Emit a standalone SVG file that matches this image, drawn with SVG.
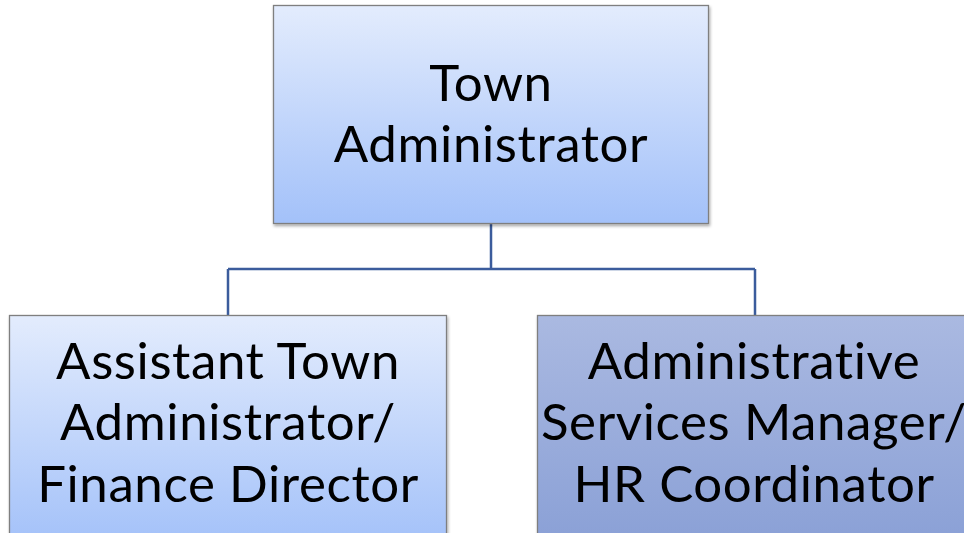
<svg xmlns="http://www.w3.org/2000/svg" width="964" height="533" viewBox="0 0 964 533">
  <defs>
    <linearGradient id="lightFill" x1="0" y1="0" x2="0" y2="1">
      <stop offset="0" stop-color="#e3ecfd"/>
      <stop offset="1" stop-color="#a3c1f9"/>
    </linearGradient>
    <linearGradient id="darkFill" x1="0" y1="0" x2="0" y2="1">
      <stop offset="0" stop-color="#aab9e1"/>
      <stop offset="1" stop-color="#8aa0d6"/>
    </linearGradient>
    <filter id="shadow" x="-5%" y="-5%" width="110%" height="115%">
      <feDropShadow dx="1" dy="2" stdDeviation="1.5" flood-color="#000" flood-opacity="0.35"/>
    </filter>
  </defs>
  <style>
    .box { stroke: #7f7f7f; stroke-width: 1.3; filter: url(#shadow); }
    .label { font-family: "Lato", "Open Sans", sans-serif; font-size: 51px; letter-spacing: 0.6px; font-variant-ligatures: none; fill: #000; text-anchor: middle; }
    .wire { fill: none; stroke: #3b5c9c; stroke-width: 2.5; }
  </style>
  <rect width="964" height="533" fill="#ffffff"/>

  <g id="connectors">
    <path class="wire" d="M491 224 V269 M228 269 H755 M228 269 V316 M755 269 V316"/>
  </g>

  <g id="town-administrator">
    <rect class="box" x="273.5" y="5.5" width="435" height="218" fill="url(#lightFill)"/>
    <text class="label" x="491" y="101">Town</text>
    <text class="label" x="491" y="162">Administrator</text>
  </g>

  <g id="assistant-town-administrator">
    <rect class="box" x="9.5" y="315.5" width="437" height="230" fill="url(#lightFill)"/>
    <text class="label" x="228" y="379">Assistant Town</text>
    <text class="label" x="228" y="440">Administrator/</text>
    <text class="label" x="228" y="502">Finance Director</text>
  </g>

  <g id="administrative-services-manager">
    <rect class="box" x="537.5" y="315.5" width="440" height="230" fill="url(#darkFill)"/>
    <text class="label" x="754" y="379">Administrative</text>
    <text class="label" x="754" y="440">Services Manager/</text>
    <text class="label" x="754" y="502">HR Coordinator</text>
  </g>
</svg>
